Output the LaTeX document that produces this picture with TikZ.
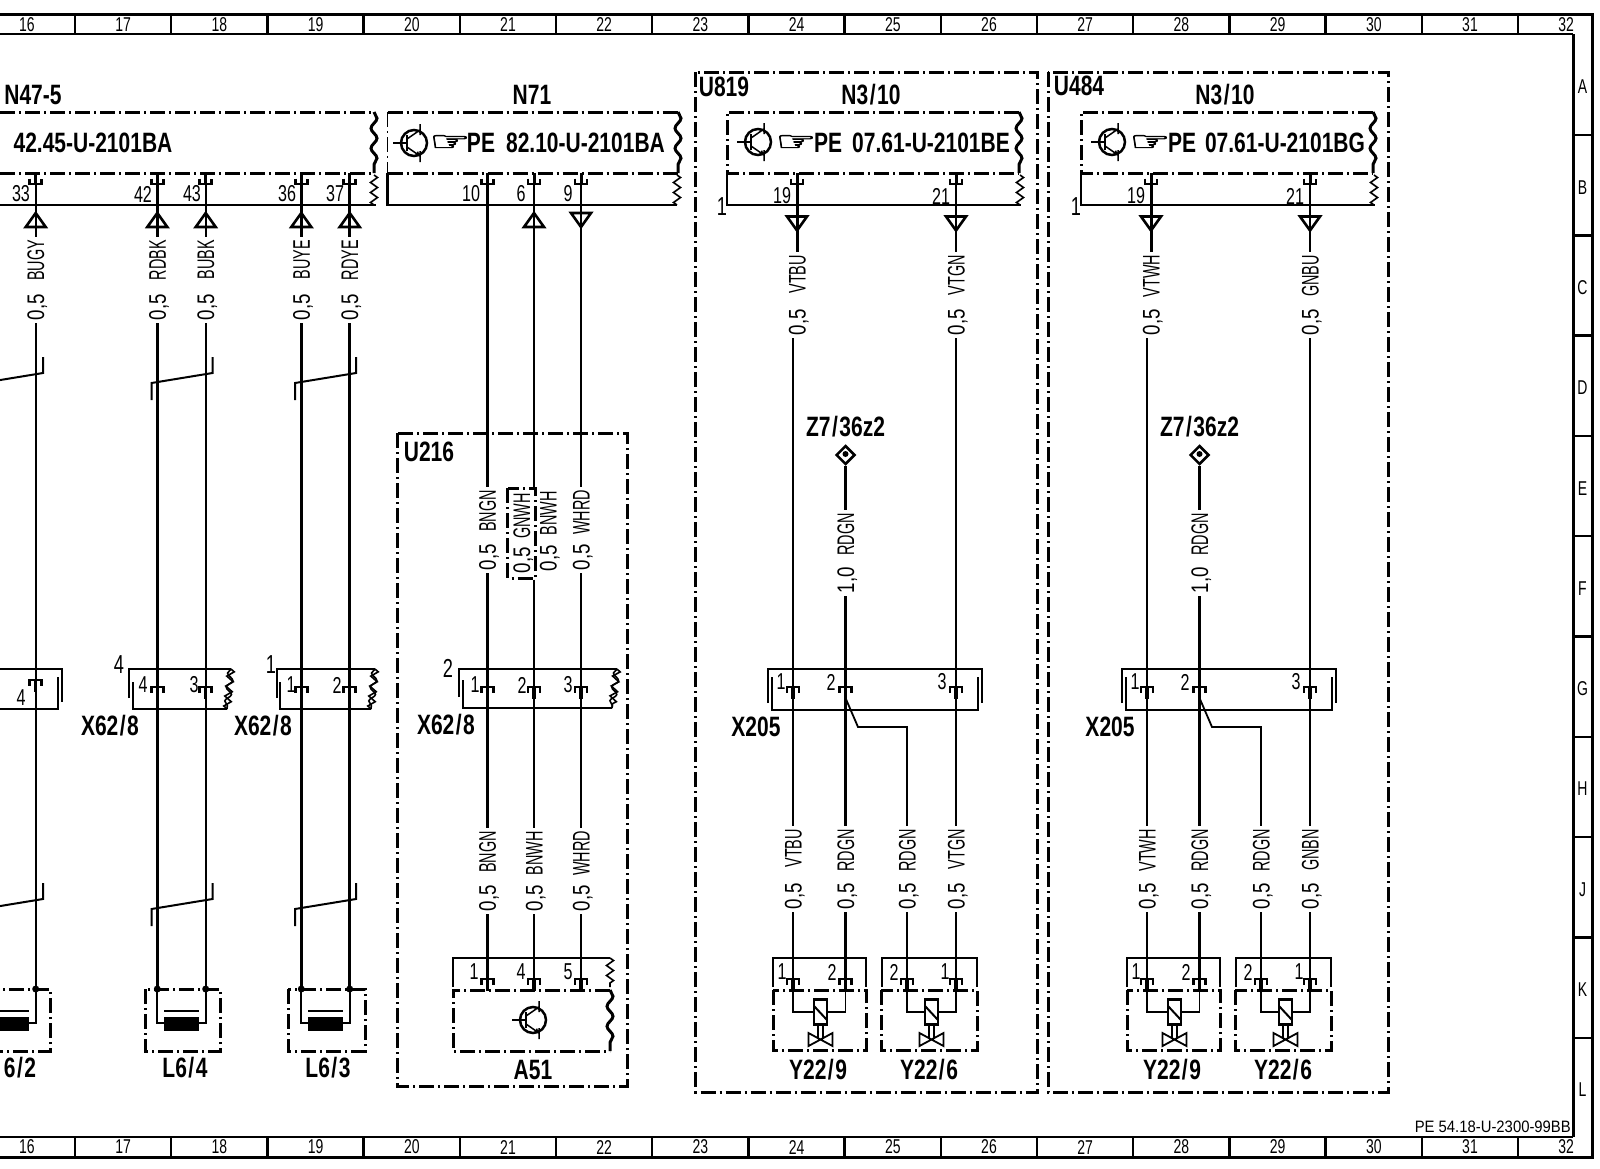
\documentclass[tikz,border=0pt]{standalone}
\usepackage{fontspec}
\usetikzlibrary{decorations.pathmorphing,shapes.geometric}
\newfontfamily\wirefont[FakeStretch=0.6]{Liberation Sans}
\newfontfamily\gaugefont[FakeStretch=0.78]{Liberation Sans}
\newfontfamily\pinfont[FakeStretch=0.7]{Liberation Sans}
\newfontfamily\numfont[FakeStretch=0.9]{Liberation Sans}
\newfontfamily\tagfont[FakeStretch=0.75]{Liberation Sans}
\newfontfamily\handfont[FakeStretch=1.7,FakeBold=2.5]{DejaVu Sans}
\newcommand{\wl}[2]{\makebox[80pt][s]{{\gaugefont #1}\hfil #2}}
\newcommand{\wsl}{\hspace{1.5pt}/\hspace{1.5pt}}
\tikzset{
    wire/.style={line width=1.8pt},
    wirebig/.style={line width=3pt},
    conline/.style={line width=2.4pt},
    thinbox/.style={line width=1.8pt},
    dashbox/.style={line width=3pt,dash pattern=on 15pt off 4pt on 2pt off 4pt},
    dashthin/.style={line width=1.2pt,dash pattern=on 15pt off 4pt on 2pt off 4pt},
    bigwave/.style={line width=3pt,decorate,decoration={snake,amplitude=3pt,segment length=20pt}},
    zigline/.style={line width=1.6pt,decorate,decoration={zigzag,amplitude=3.5pt,segment length=10pt}},
    snakeline/.style={line width=1.6pt,decorate,decoration={snake,amplitude=-3pt,segment length=14pt}},
    wirelabel/.style={rotate=90,font=\wirefont\fontsize{24}{24}\selectfont,inner xsep=3pt,inner ysep=0pt,text height=17pt,text depth=0pt},
    pinlabel/.style={font=\pinfont\fontsize{23}{23}\selectfont,inner sep=0pt},
    outerlabel/.style={font=\pinfont\fontsize{26}{26}\selectfont,inner sep=0pt},
    rulerlabel/.style={font=\pinfont\fontsize{20}{20}\selectfont,inner sep=0pt},
    tag/.style={font=\tagfont\bfseries\fontsize{28}{28}\selectfont,inner sep=0pt},
    handmark/.style={font=\handfont\fontsize{27}{27}\selectfont,inner sep=0pt},
    pincup/.pic={
        \draw[line width=2.6pt] (-6,-5.5) -- (-6,0) -- (6,0) -- (6,-5.5);
        \draw[line width=3pt] (0,-11) -- (0,0);
    },
    pincap/.pic={
        \draw[line width=2.6pt] (-6,5.5) -- (-6,0) -- (6,0) -- (6,5.5);
        \draw[line width=3.2pt] (0,0) -- (0,12);
    },
    triup/.pic={\draw[line width=2.6pt] (-10,7) -- (10,7) -- (0,-7) -- cycle;},
    tridown/.pic={\draw[line width=2.6pt] (-10,-7) -- (10,-7) -- (0,7) -- cycle;},
    twist/.pic={\draw[line width=2pt] (0,17) -- (0,0) -- (61,-10) -- (61,-26);},
    transistor/.pic={
        \draw[line width=2.5pt] (0,0) circle (13);
        \draw[line width=1.5pt] (-21,0) -- (-7,0);
        \draw[line width=2pt] (-7,-8) -- (-7,8);
        \draw[line width=1.5pt] (-7,-4) -- (6,-13) (6,-19) -- (6,-8);
        \draw[line width=1.5pt] (-7,4) -- (6,13) (6,8) -- (6,19);
        \fill (6,13) -- (1,12.5) -- (4,8) -- cycle;
    },
    coilbar/.pic={
        \fill (-17.5,-6) rectangle (17.5,8);
        \draw[line width=2.5pt] (-17.5,-12) -- (17.5,-12);
        \coordinate (-w) at (-17.5,0);
        \coordinate (-e) at (17.5,0);
    },
    solenoid/.pic={
        \draw[line width=2.5pt] (-6.5,-12.5) rectangle (6.5,12.5);
        \draw[line width=2pt] (-6.5,-6) -- (6.5,8);
        \draw[line width=1.6pt] (-2.5,12.5) -- (-2.5,27) (2.5,12.5) -- (2.5,27);
        \draw[line width=1.8pt] (-12,21) -- (-12,34) -- (12,21) -- (12,34) -- cycle;
        \coordinate (-w) at (-6.5,0);
        \coordinate (-e) at (6.5,0);
    }
}
\begin{document}
\begin{tikzpicture}[x=1pt,y=-1pt]
        \useasboundingbox (0,0) rectangle (1600,1168);
        \clip (0,0) rectangle (1600,1168);
        \draw[line width=3pt] (0,14) -- (1592,14) -- (1592,1157) -- (0,1157);
        \draw[conline] (0,34) -- (1573,34);
        \draw[conline] (0,1137) -- (1573,1137);
        \draw[line width=3pt] (1573,34) -- (1573,1137);
        \foreach \n [count=\k from 0] in {16,...,32} {
            \node[rulerlabel] (top\n) at (27+96.2*\k,25) {\n};
            \node[rulerlabel] (bot\n) at (27+96.2*\k,1147) {\n};
        }
        \foreach \k in {0,...,15} {
            \draw[conline] (75+96.2*\k,14) -- (75+96.2*\k,34);
            \draw[conline] (75+96.2*\k,1137) -- (75+96.2*\k,1157);
        }
        \foreach \r [count=\k from 0] in {A,B,C,D,E,F,G,H,J,K,L} {
            \node[rulerlabel] (row\r) at (1582.5,87+100.3*\k) {\r};
        }
        \foreach \k in {0,...,9} {
            \draw[conline] (1573,135+100.3*\k) -- (1592,135+100.3*\k);
        }
        \node[font=\numfont\fontsize{16.5}{16.5}\selectfont,inner sep=0pt,anchor=east] (sheet) at (1571,1127) {PE 54.18-U-2300-99BB};

        \node[tag] (n475) at (33,95) {N47-5};
        \draw[dashbox] (0,112) -- (374,112);
        \draw[dashbox] (0,173) -- (374,173);
        \draw[bigwave] (374,112) -- (374,173);
        \draw[zigline] (374,175) -- (374,205);
        \draw[conline] (0,205) -- (376,205);
        \node[tag] (n47text) at (93,143) {42.45-U-2101BA};

        \node[tag] (n71) at (532,95) {N71};
        \draw[dashbox] (387.5,112) -- (678,112);
        \draw[dashbox] (387.5,173) -- (678,173);
        \draw[dashthin] (387.5,112) -- (387.5,173);
        \draw[bigwave] (678,112) -- (678,173);
        \draw[zigline] (677,175) -- (677,205);
        \draw[conline] (387.5,173) -- (387.5,205) -- (677,205);
        \pic at (414,143) {transistor};
        \node[handmark] (hand71) at (450,143) {☞};
        \node[tag] (pe71) at (481,143) {PE};
        \node[tag] (n71text) at (585.5,143) {82.10-U-2101BA};

        \pic (l62) at (11.5,1023) {coilbar};
        \pic (l64) at (181.5,1023) {coilbar};
        \pic (l63) at (325.5,1023) {coilbar};
        \draw[dashbox] (-25,989) rectangle (50,1051);
        \draw[dashbox] (145,989) rectangle (220,1051);
        \draw[dashbox] (288,989) rectangle (365,1051);
        \node[tag] (l62tag) at (20,1068) {6\wsl 2};
        \node[tag] (l64tag) at (185,1068) {L6\wsl 4};
        \node[tag] (l63tag) at (328,1068) {L6\wsl 3};

        \foreach \pin/\px/\lx/\col/\cy/\w/\coilend in {
            33/35.7/21/BUGY/680/wire/l62-e,
            42/157.3/143/RDBK/687/wirebig/l64-w,
            43/205.7/192/BUBK/687/wire/l64-e,
            36/301.3/287/BUYE/687/wirebig/l63-w,
            37/349.7/335/RDYE/687/wirebig/l63-e} {
            \coordinate (n\pin) at (\px,173);
            \coordinate (g\pin) at (\px,\cy);
            \coordinate (d\pin) at (\px,989);
            \pic at (\px,184) {pincup};
            \pic at (\px,220) {triup};
            \pic at (g\pin) {pincap};
            \node[pinlabel] (nl\pin) at (\lx,194) {\pin};
            \node[wirelabel] (l\pin) at (\px,280) {\wl{0,5}{\col}};
            \draw[\w] (n\pin) -- (l\pin.east);
            \draw[\w] (l\pin.west) -- (g\pin) -- (d\pin);
            \draw[wire] (d\pin) |- (\coilend);
            \fill (d\pin) circle (3.5);
        }
        \pic at (-18,383) {twist};
        \pic at (151.5,383) {twist};
        \pic at (295,383) {twist};
        \pic at (-18,909) {twist};
        \pic at (151.5,909) {twist};
        \pic at (295,909) {twist};

        \draw[conline] (0,669) -- (62,669) -- (62,702);
        \draw[conline] (0,709) -- (58,709) -- (58,677);
        \node[pinlabel] (x4a) at (21,698) {4};
        \draw[conline] (129,698) -- (129,669) -- (231,669);
        \draw[conline] (133,682) -- (133,709) -- (227,709);
        \draw[zigline] (231,669) -- (227,709);
        \draw[snakeline] (231,669) -- (227,709);
        \node[outerlabel] (x4o) at (119,665) {4};
        \node[pinlabel] (x4b) at (143,685) {4};
        \node[pinlabel] (x3b) at (194,685) {3};
        \node[tag] (x628a) at (110,726) {X62\wsl 8};
        \draw[conline] (277,698) -- (277,669) -- (375,669);
        \draw[conline] (280,682) -- (280,709) -- (371,709);
        \draw[zigline] (375,669) -- (371,709);
        \draw[snakeline] (375,669) -- (371,709);
        \node[outerlabel] (x1o) at (271,665) {1};
        \node[pinlabel] (x1c) at (291,685) {1};
        \node[pinlabel] (x2c) at (337,685) {2};
        \node[tag] (x628b) at (263,726) {X62\wsl 8};

        \draw[dashbox] (397,433) rectangle (627,1086);
        \node[tag] (u216) at (429,452) {U216};
        \draw[conline] (459,697) -- (459,669) -- (617,669);
        \draw[conline] (463,680) -- (463,708) -- (612,708);
        \draw[zigline] (617,669) -- (612,708);
        \draw[snakeline] (617,669) -- (612,708);
        \node[outerlabel] (x2o) at (448,668) {2};
        \node[pinlabel] (x1d) at (475,685) {1};
        \node[pinlabel] (x2d) at (522,685) {2};
        \node[pinlabel] (x3d) at (568,685) {3};
        \node[tag] (x628c) at (446,725) {X62\wsl 8};
        \draw[conline] (453,987) -- (453,958) -- (610,958);
        \draw[zigline] (610,958) -- (610,987);
        \draw[dashbox] (610,990) -- (453,990) -- (453,1051) -- (610,1051);
        \draw[bigwave] (610,990) -- (610,1051);
        \pic at (533,1020) {transistor};
        \node[pinlabel] (a1) at (474,972) {1};
        \node[pinlabel] (a4) at (521,972) {4};
        \node[pinlabel] (a5) at (568,972) {5};
        \node[tag] (a51) at (533,1070) {A51};

        \foreach \pin/\px/\lx/\w/\pa in {10/487.3/471/wirebig/1,6/534/521/wire/4,9/581/568/wire/5} {
            \coordinate (n\pin) at (\px,173);
            \coordinate (g\pin) at (\px,687);
            \coordinate (a\pin) at (\px,979);
            \pic at (\px,184) {pincup};
            \pic at (g\pin) {pincap};
            \pic at (a\pin) {pincap};
            \node[pinlabel] (nl\pin) at (\lx,194) {\pin};
        }
        \pic at (534,220) {triup};
        \pic at (581,220) {tridown};
        \node[wirelabel] (u10) at (487.3,530) {\wl{0,5}{BNGN}};
        \node[wirelabel,draw,dashbox,minimum height=28pt,inner xsep=5pt] (u6g) at (521.5,533) {\wl{0,5}{GNWH}};
        \node[wirelabel] (u6b) at (548,531) {\wl{0,5}{BNWH}};
        \node[wirelabel] (u9) at (581,530) {\wl{0,5}{WHRD}};
        \node[wirelabel] (w10) at (487.3,871) {\wl{0,5}{BNGN}};
        \node[wirelabel] (w6) at (534,871) {\wl{0,5}{BNWH}};
        \node[wirelabel] (w9) at (581,871) {\wl{0,5}{WHRD}};
        \draw[wirebig] (n10) -- (u10.east);
        \draw[wirebig] (u10.west) -- (g10) -- (w10.east);
        \draw[wirebig] (w10.west) -- (a10);
        \draw[wire] (n6) -- (n6 |- u6g.east);
        \draw[wire] (n6 |- u6g.west) -- (g6) -- (w6.east);
        \draw[wire] (w6.west) -- (a6);
        \draw[wire] (n9) -- (u9.east);
        \draw[wire] (u9.west) -- (g9) -- (w9.east);
        \draw[wire] (w9.west) -- (a9);

        \draw[dashbox] (695.5,72) rectangle (1037,1092);
        \draw[dashbox] (1048,72) rectangle (1388,1092);
        \node[tag] (u819) at (724,87) {U819};
        \node[tag] (u484) at (1079,86) {U484};

        \foreach \u/\sx/\txt/\ca/\cb/\cc/\cd in {
            a/0/07.61-U-2101BE/VTBU/VTGN/VTBU/VTGN,
            b/354/07.61-U-2101BG/VTWH/GNBU/VTWH/GNBN} {
            \begin{scope}[xshift=\sx]
                \node[tag] (\u n3) at (871,95) {N3\wsl 10};
                \draw[dashbox] (1019,112) -- (727,112) -- (727,173) -- (1019,173);
                \draw[bigwave] (1019,112) -- (1019,173);
                \draw[zigline] (1020,175) -- (1020,205);
                \draw[conline] (727,173) -- (727,205) -- (1021,205);
                \pic at (758,142) {transistor};
                \node[handmark] (\u hand) at (796,143) {☞};
                \node[tag] (\u pe) at (828,143) {PE};
                \node[tag] (\u text) at (931,143) {\txt};
                \node[outerlabel] (\u one) at (722,207) {1};
                \node[pinlabel] (\u p19) at (782,196) {19};
                \node[pinlabel] (\u p21) at (941,196) {21};

                \coordinate (\u t1) at (797,173);
                \coordinate (\u t2) at (956,173);
                \coordinate (\u c1) at (793,687);
                \coordinate (\u c2) at (845.5,687);
                \coordinate (\u c3) at (956,687);
                \coordinate (\u br) at (845.5,698);
                \coordinate (\u bk) at (858,727);
                \pic at (\u t1) [yshift=-11] {pincup};
                \pic at (\u t2) [yshift=-11] {pincup};
                \pic at (797,223.5) {tridown};
                \pic at (956,223.5) {tridown};
                \pic at (\u c1) {pincap};
                \pic at (\u c2) {pincap};
                \pic at (\u c3) {pincap};

                \node[wirelabel] (\u v1) at (797,295) {\wl{0,5}{\ca}};
                \node[wirelabel] (\u v2) at (956,295) {\wl{0,5}{\cb}};
                \node[tag] (\u ztag) at (845.5,427) {Z7\wsl 36z2};
                \node[diamond,draw,line width=2.5pt,aspect=1,minimum size=19pt,inner sep=0pt] (\u z) at (845.5,455) {};
                \fill (845.5,454) circle (3);
                \node[wirelabel] (\u m) at (845.5,553) {\wl{1,0}{RDGN}};
                \draw[wirebig] (\u t1) -- (\u v1.east);
                \draw[wire] (\u t2) -- (\u v2.east);
                \draw[wire] (\u c1 |- \u v1.west) -- (\u c1);
                \draw[wire] (\u v2.west) -- (\u c3);
                \draw[wirebig] (\u z.south) -- (\u m.east);
                \draw[wirebig] (\u m.west) -- (\u c2);

                \draw[conline] (768,703) -- (768,669) -- (982,669) -- (982,703);
                \draw[conline] (772,677) -- (772,710) -- (978,710) -- (978,677);
                \node[pinlabel] (\u x1) at (781,682) {1};
                \node[pinlabel] (\u x2) at (831,682) {2};
                \node[pinlabel] (\u x3) at (942,682) {3};
                \node[tag] (\u x205) at (756,727) {X205};

                \node[wirelabel] (\u d1) at (793,869) {\wl{0,5}{\cc}};
                \node[wirelabel] (\u d2) at (845.5,869) {\wl{0,5}{RDGN}};
                \node[wirelabel] (\u d3) at (907,869) {\wl{0,5}{RDGN}};
                \node[wirelabel] (\u d4) at (956,869) {\wl{0,5}{\cd}};
                \coordinate (\u q1) at (793,979);
                \coordinate (\u q2) at (845.5,979);
                \coordinate (\u q3) at (907,979);
                \coordinate (\u q4) at (956,979);
                \draw[wire] (\u c1) -- (\u d1.east);
                \draw[wirebig] (\u c2) -- (\u d2.east);
                \draw[wire] (\u br) -- (\u bk) -| (\u d3.east);
                \draw[wire] (\u c3) -- (\u d4.east);
                \draw[wire] (\u d1.west) -- (\u q1);
                \draw[wirebig] (\u d2.west) -- (\u q2);
                \draw[wire] (\u d3.west) -- (\u q3);
                \draw[wire] (\u d4.west) -- (\u q4);

                \draw[thinbox] (773,987) -- (773,958) -- (866,958) -- (866,987);
                \draw[thinbox] (882,987) -- (882,958) -- (977,958) -- (977,987);
                \draw[dashbox] (773,990) rectangle (866,1050);
                \draw[dashbox] (881,990) rectangle (977,1050);
                \foreach \k in {1,...,4} {\pic at (\u q\k) {pincap};}
                \node[pinlabel] (\u y1) at (782,972) {1};
                \node[pinlabel] (\u y2) at (832,972) {2};
                \node[pinlabel] (\u y3) at (894,972) {2};
                \node[pinlabel] (\u y4) at (945,972) {1};
                \pic (\u sa) at (820.5,1012) {solenoid};
                \pic (\u sb) at (931.5,1012) {solenoid};
                \draw[wire] (\u q1) |- (\u sa-w);
                \draw[wire] (\u q2) |- (\u sa-e);
                \draw[wire] (\u q3) |- (\u sb-w);
                \draw[wire] (\u q4) |- (\u sb-e);
                \node[tag] (\u y229) at (818,1070) {Y22\wsl 9};
                \node[tag] (\u y226) at (929,1070) {Y22\wsl 6};
            \end{scope}
        }
    \end{tikzpicture}
\end{document}
